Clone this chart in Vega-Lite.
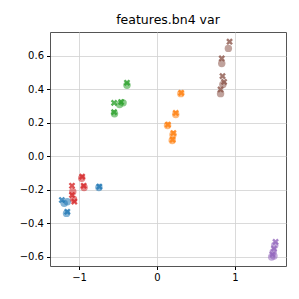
{
  "$schema": "https://vega.github.io/schema/vega-lite/v6.json",
  "autosize": "none",
  "width": 236,
  "height": 234,
  "padding": {"left": 50, "top": 32, "right": 13, "bottom": 33},
  "background": "white",
  "title": {"text": "features.bn4 var", "fontSize": 12.5, "font": "DejaVu Sans", "fontWeight": "normal", "color": "#000", "offset": 6},
  "config": {
    "view": {"stroke": "#555", "strokeWidth": 1},
    "axis": {"labelFont": "DejaVu Sans", "labelFontSize": 10, "labelColor": "#000", "tickColor": "#000", "tickSize": 3.5, "domain": false, "gridColor": "#d0d0d0", "gridWidth": 0.8, "title": null, "labelPadding": 3}
  },
  "data": {"values": [
    {"x": -1.22, "y": -0.26, "g": "a", "m": "x"},
    {"x": -1.15, "y": -0.27, "g": "a", "m": "o"},
    {"x": -1.19, "y": -0.28, "g": "a", "m": "o"},
    {"x": -1.15, "y": -0.33, "g": "a", "m": "x"},
    {"x": -1.16, "y": -0.34, "g": "a", "m": "o"},
    {"x": -0.74, "y": -0.18, "g": "a", "m": "x"},
    {"x": -0.745, "y": -0.185, "g": "a", "m": "o"},
    {"x": 0.31, "y": 0.38, "g": "b", "m": "x"},
    {"x": 0.305, "y": 0.375, "g": "b", "m": "o"},
    {"x": 0.24, "y": 0.26, "g": "b", "m": "x"},
    {"x": 0.24, "y": 0.25, "g": "b", "m": "o"},
    {"x": 0.14, "y": 0.19, "g": "b", "m": "x"},
    {"x": 0.135, "y": 0.185, "g": "b", "m": "o"},
    {"x": 0.21, "y": 0.14, "g": "b", "m": "x"},
    {"x": 0.205, "y": 0.13, "g": "b", "m": "o"},
    {"x": 0.2, "y": 0.1, "g": "b", "m": "x"},
    {"x": 0.195, "y": 0.095, "g": "b", "m": "o"},
    {"x": -0.385, "y": 0.44, "g": "c", "m": "x"},
    {"x": -0.385, "y": 0.425, "g": "c", "m": "o"},
    {"x": -0.55, "y": 0.32, "g": "c", "m": "x"},
    {"x": -0.46, "y": 0.325, "g": "c", "m": "x"},
    {"x": -0.435, "y": 0.32, "g": "c", "m": "o"},
    {"x": -0.48, "y": 0.31, "g": "c", "m": "o"},
    {"x": -0.55, "y": 0.265, "g": "c", "m": "x"},
    {"x": -0.545, "y": 0.255, "g": "c", "m": "o"},
    {"x": -0.96, "y": -0.12, "g": "d", "m": "x"},
    {"x": -0.965, "y": -0.13, "g": "d", "m": "o"},
    {"x": -0.94, "y": -0.175, "g": "d", "m": "x"},
    {"x": -0.935, "y": -0.185, "g": "d", "m": "o"},
    {"x": -1.09, "y": -0.175, "g": "d", "m": "x"},
    {"x": -1.09, "y": -0.23, "g": "d", "m": "x"},
    {"x": -1.08, "y": -0.21, "g": "d", "m": "o"},
    {"x": -1.06, "y": -0.27, "g": "d", "m": "x"},
    {"x": -1.07, "y": -0.255, "g": "d", "m": "o"},
    {"x": 1.52, "y": -0.51, "g": "e", "m": "x"},
    {"x": 1.51, "y": -0.53, "g": "e", "m": "o"},
    {"x": 1.5, "y": -0.55, "g": "e", "m": "x"},
    {"x": 1.49, "y": -0.57, "g": "e", "m": "o"},
    {"x": 1.48, "y": -0.585, "g": "e", "m": "x"},
    {"x": 1.47, "y": -0.6, "g": "e", "m": "o"},
    {"x": 1.5, "y": -0.595, "g": "e", "m": "o"},
    {"x": 0.93, "y": 0.685, "g": "f", "m": "x"},
    {"x": 0.915, "y": 0.645, "g": "f", "m": "o"},
    {"x": 0.83, "y": 0.585, "g": "f", "m": "x"},
    {"x": 0.83, "y": 0.555, "g": "f", "m": "o"},
    {"x": 0.84, "y": 0.48, "g": "f", "m": "x"},
    {"x": 0.86, "y": 0.445, "g": "f", "m": "x"},
    {"x": 0.845, "y": 0.43, "g": "f", "m": "o"},
    {"x": 0.815, "y": 0.4, "g": "f", "m": "x"},
    {"x": 0.815, "y": 0.375, "g": "f", "m": "o"}
  ]},
  "mark": {"type": "point", "filled": true, "strokeWidth": 0},
  "encoding": {
    "x": {"field": "x", "type": "quantitative", "scale": {"domain": [-1.372, 1.654], "nice": false, "zero": false}, "axis": {"values": [-1, 0, 1], "labelExpr": "replace(format(datum.value, 'd'), '-', '\u2212')"}},
    "y": {"field": "y", "type": "quantitative", "scale": {"domain": [-0.654, 0.743], "nice": false, "zero": false}, "axis": {"values": [-0.6, -0.4, -0.2, 0, 0.2, 0.4, 0.6], "labelExpr": "replace(format(datum.value, '.1f'), '-', '\u2212')"}},
    "color": {"field": "g", "type": "nominal", "scale": {"domain": ["a", "b", "c", "d", "e", "f"], "range": ["#1f77b4", "#ff7f0e", "#2ca02c", "#d62728", "#9467bd", "#8c564b"]}, "legend": null},
    "shape": {"field": "m", "type": "nominal", "scale": {"domain": ["o", "x"], "range": ["circle", "M-0.5,-1L0,-0.5L0.5,-1L1,-0.5L0.5,0L1,0.5L0.5,1L0,0.5L-0.5,1L-1,0.5L-0.5,0L-1,-0.5Z"]}, "legend": null},
    "size": {"field": "m", "type": "nominal", "scale": {"domain": ["o", "x"], "range": [55, 45]}, "legend": null},
    "opacity": {"field": "m", "type": "nominal", "scale": {"domain": ["o", "x"], "range": [0.55, 0.8]}, "legend": null}
  }
}
